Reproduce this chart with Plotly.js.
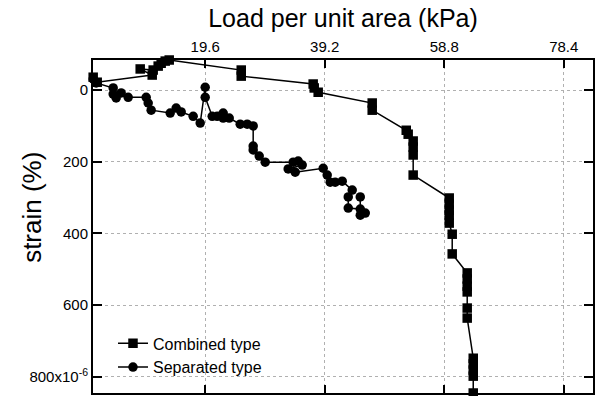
<!DOCTYPE html>
<html>
<head>
<meta charset="utf-8">
<script src="https://cdn.plot.ly/plotly-3.0.1.min.js"></script>
<style>html,body{margin:0;padding:0;background:#fff;}#chart{width:605px;height:396px;}</style>
</head>
<body>
<div id="chart"></div>
<script>
// Combined type (squares)
const combinedLoad = [1.23, 1.89, 10.91, 8.94, 11.07, 11.89, 12.38, 13.04, 13.70, 25.51, 25.51, 37.31, 37.48, 38.13, 46.99, 46.99, 52.57, 52.89, 53.71, 53.71, 53.71, 53.71, 59.62, 59.62, 59.62, 59.62, 59.62, 60.11, 60.11, 62.57, 62.57, 62.57, 62.57, 62.57, 62.57, 63.56, 63.56, 63.56, 63.56, 63.56];
const combinedStrain = [-36, -22, -42, -59, -56, -67, -75, -81, -84, -56, -39, -17, -6, 6, 36, 56, 112, 123, 142, 159, 181, 237, 301, 318, 335, 349, 371, 402, 457, 510, 527, 547, 563, 608, 636, 748, 764, 781, 798, 845];
// Separated type (circles)
const separatedLoad = [1.23, 1.72, 4.51, 4.51, 5.00, 5.82, 6.97, 9.92, 10.25, 10.74, 13.86, 14.84, 15.66, 17.63, 18.78, 19.60, 19.60, 20.75, 21.57, 22.55, 22.55, 23.54, 25.34, 26.49, 27.47, 27.47, 27.47, 28.46, 29.44, 34.03, 34.85, 35.51, 33.21, 34.36, 38.95, 39.61, 40.10, 40.92, 42.07, 43.71, 43.06, 43.06, 45.03, 45.03, 45.03, 45.85];
const separatedStrain = [-31, -20, -6, 11, 22, 8, 20, 20, 36, 56, 64, 50, 61, 73, 92, -8, 20, 73, 73, 64, 78, 78, 95, 95, 100, 156, 167, 184, 201, 201, 198, 209, 220, 229, 218, 237, 257, 257, 254, 279, 298, 329, 332, 298, 349, 343];
// Axis ticks
const xTickVals = [19.6, 39.2, 58.8, 78.4];
const xTickText = ['19.6', '39.2', '58.8', '78.4'];
const yTickVals = [0, 200, 400, 600, 800];
const yTickText = ['0', '200', '400', '600', '800x10<sup>-6</sup>'];

const FONT = 'Arial, "Liberation Sans", sans-serif';

const traces = [
  {
    x: combinedLoad, y: combinedStrain, name: 'Combined type',
    type: 'scatter', mode: 'lines+markers', cliponaxis: false,
    line: {color: '#000', width: 1.5},
    marker: {symbol: 'square', size: 9.5, color: '#000'}
  },
  {
    x: separatedLoad, y: separatedStrain, name: 'Separated type',
    type: 'scatter', mode: 'lines+markers', cliponaxis: false,
    line: {color: '#000', width: 1.5},
    marker: {symbol: 'circle', size: 9.5, color: '#000'}
  }
];

const layout = {
  width: 605, height: 396,
  margin: {l: 93, r: 12, t: 60, b: 3, pad: 0},
  paper_bgcolor: '#fff', plot_bgcolor: '#fff',
  font: {family: FONT, color: '#000', size: 15},
  showlegend: true,
  legend: {
    x: 0.04, y: 0.2, xanchor: 'left', yanchor: 'top',
    bgcolor: 'rgba(0,0,0,0)', borderwidth: 0,
    font: {family: FONT, size: 16, color: '#000'},
    tracegroupgap: 0, itemwidth: 30
  },
  xaxis: {
    side: 'top', range: [1.2, 83.2],
    tickmode: 'array', tickvals: xTickVals, ticktext: xTickText,
    ticks: 'inside', ticklen: 8, tickwidth: 2, tickcolor: '#000',
    showline: true, linecolor: '#000', linewidth: 2, mirror: 'ticks',
    showgrid: true, gridcolor: '#b0b0b0', griddash: 'dot', gridwidth: 1,
    zeroline: false,
    tickfont: {family: FONT, size: 15, color: '#000'},
    title: {text: 'Load per unit area (kPa)', font: {family: FONT, size: 25, color: '#000'}, standoff: 3}
  },
  yaxis: {
    range: [845, -84],
    tickmode: 'array', tickvals: yTickVals, ticktext: yTickText,
    ticks: 'inside', ticklen: 9, tickwidth: 2, tickcolor: '#000',
    showline: true, linecolor: '#000', linewidth: 2, mirror: 'ticks',
    showgrid: true, gridcolor: '#b0b0b0', griddash: 'dot', gridwidth: 1,
    zeroline: false,
    tickfont: {family: FONT, size: 15, color: '#000'}
  },
  annotations: [
    {
      text: 'strain (%)', xref: 'paper', yref: 'paper',
      x: -0.122, y: 0.556, xanchor: 'center', yanchor: 'middle',
      textangle: -90, showarrow: false,
      font: {family: FONT, size: 26, color: '#000'}
    }
  ]
};

Plotly.newPlot('chart', traces, layout, {displayModeBar: false, staticPlot: true});
</script>
</body>
</html>
